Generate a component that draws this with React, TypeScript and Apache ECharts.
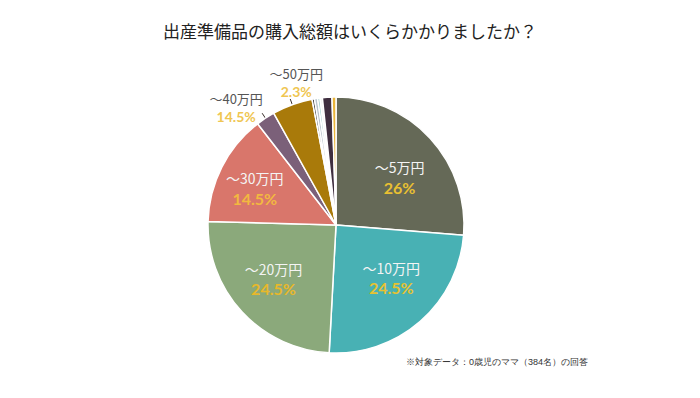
import React, { useEffect, useRef } from 'react';
import * as echarts from 'echarts';

const titleText = '出産準備品の購入総額はいくらかかりましたか？';
const noteText = '※対象データ：0歳児のママ（384名）の回答';
const categories = ['～5万円', '～10万円', '～20万円', '～30万円', '～40万円', '～50万円', '～60万円', '～70万円', '～80万円', '～90万円', '～100万円', '100万円以上'];
const sliceValues = [26.3, 24.6, 24.6, 14.1, 2.4, 5.1, 0.3, 0.4, 0.3, 0.3, 1.2, 0.5];
const percentLabels = ['26%', '24.5%', '24.5%', '14.5%', '14.5%', '2.3%', '', '', '', '', '', ''];
const insideLabelIdx = [0, 1, 2, 3];
const outsideLabelIdx = [4, 5];

const FONT = '"Noto Sans CJK JP", "Noto Sans", sans-serif';
const NUM_FONT = 'Lato, "Noto Sans", sans-serif';
const sliceColors = ['#656957', '#48b1b4', '#8ba97b', '#d9766b', '#7b6079', '#a97a0a', '#2a2a2a', '#b9c4cc', '#9fcfcc', '#f2f2f2', '#3f2e3f', '#e9b43a'];
const insidePctColors = ['#e9c032', '#e6c231', '#e8b82a', '#f2b840'];
const insideOffsets: Record<number, [number, number]> = { 0: [4, 7], 1: [2, -8], 2: [-3, -1], 3: [-9, 0] };
const outsideOffsets: Record<number, [number, number]> = { 4: [-21, -6], 5: [11, -17] };

export default function App() {
  const ref = useRef<HTMLDivElement>(null);
  useEffect(() => {
    if (!ref.current) return;
    const chart = echarts.init(ref.current, null, { renderer: 'svg' });
    const center = [336, 225];
    const mainData = categories.map((name, i) => ({ name, value: sliceValues[i], itemStyle: { color: sliceColors[i] } }));
    const insideData = categories.map((name, i) => {
      const k = insideLabelIdx.indexOf(i);
      return {
        name,
        value: sliceValues[i],
        label: k >= 0 ? {
          show: true,
          position: 'inside',
          formatter: `{n|${name}}\n{p|${percentLabels[i]}}`,
          rich: {
            n: { color: '#f4f4f4', fontSize: 14, lineHeight: 20, fontFamily: FONT },
            p: { color: insidePctColors[k], fontSize: 16, fontWeight: 'bold', lineHeight: 20, fontFamily: NUM_FONT },
          },
        } : { show: false },
      };
    });
    const outsideData = categories.map((name, i) => {
      const k = outsideLabelIdx.indexOf(i);
      return {
        name,
        value: sliceValues[i],
        label: k >= 0 ? {
          show: true,
          position: 'outside',
          distanceToLabelLine: 5,
          formatter: `{n|${name}}\n{p|${percentLabels[i]}}`,
          rich: {
            n: { color: '#555555', fontSize: 13, lineHeight: 18, fontFamily: FONT },
            p: { color: '#efc652', fontSize: 14, fontWeight: 'bold', lineHeight: 18, fontFamily: NUM_FONT },
          },
        } : { show: false },
        labelLine: k >= 0 ? { show: true, length: 16, length2: 0, lineStyle: { color: '#3a2f2a', width: 1 } } : { show: false },
      };
    });
    chart.setOption({
      animation: false,
      backgroundColor: '#ffffff',
      title: {
        text: titleText,
        left: 'center',
        top: 17,
        textStyle: { fontSize: 17, fontWeight: 'normal', color: '#222222', fontFamily: FONT },
      },
      graphic: [{
        type: 'text',
        right: 112,
        top: 357,
        style: { text: noteText, fontSize: 9, fill: '#333333', font: `9px ${FONT}` },
      }],
      series: [
        {
          type: 'pie',
          center,
          radius: 128,
          startAngle: 90,
          clockwise: true,
          silent: true,
          label: { show: false },
          labelLine: { show: false },
          itemStyle: { borderColor: '#ffffff', borderWidth: 1.5 },
          data: mainData,
        },
        {
          type: 'pie',
          center,
          radius: 156,
          startAngle: 90,
          clockwise: true,
          silent: true,
          avoidLabelOverlap: false,
          itemStyle: { color: 'rgba(0,0,0,0)', borderWidth: 0 },
          labelLine: { show: false },
          data: insideData,
          labelLayout: (p: any) => {
            const o = insideOffsets[p.dataIndex];
            return o ? { dx: o[0], dy: o[1] } : {};
          },
        },
        {
          type: 'pie',
          center,
          radius: 118,
          startAngle: 90,
          clockwise: true,
          silent: true,
          avoidLabelOverlap: false,
          itemStyle: { color: 'rgba(0,0,0,0)', borderWidth: 0 },
          data: outsideData,
          labelLayout: (p: any) => {
            const o = outsideOffsets[p.dataIndex];
            return o ? { dx: o[0], dy: o[1], align: 'center', verticalAlign: 'middle' } : {};
          },
        },
      ],
    });
    return () => chart.dispose();
  }, []);
  return <div ref={ref} style={{ position: 'fixed', left: 0, top: 0, width: 700, height: 398 }} />;
}
